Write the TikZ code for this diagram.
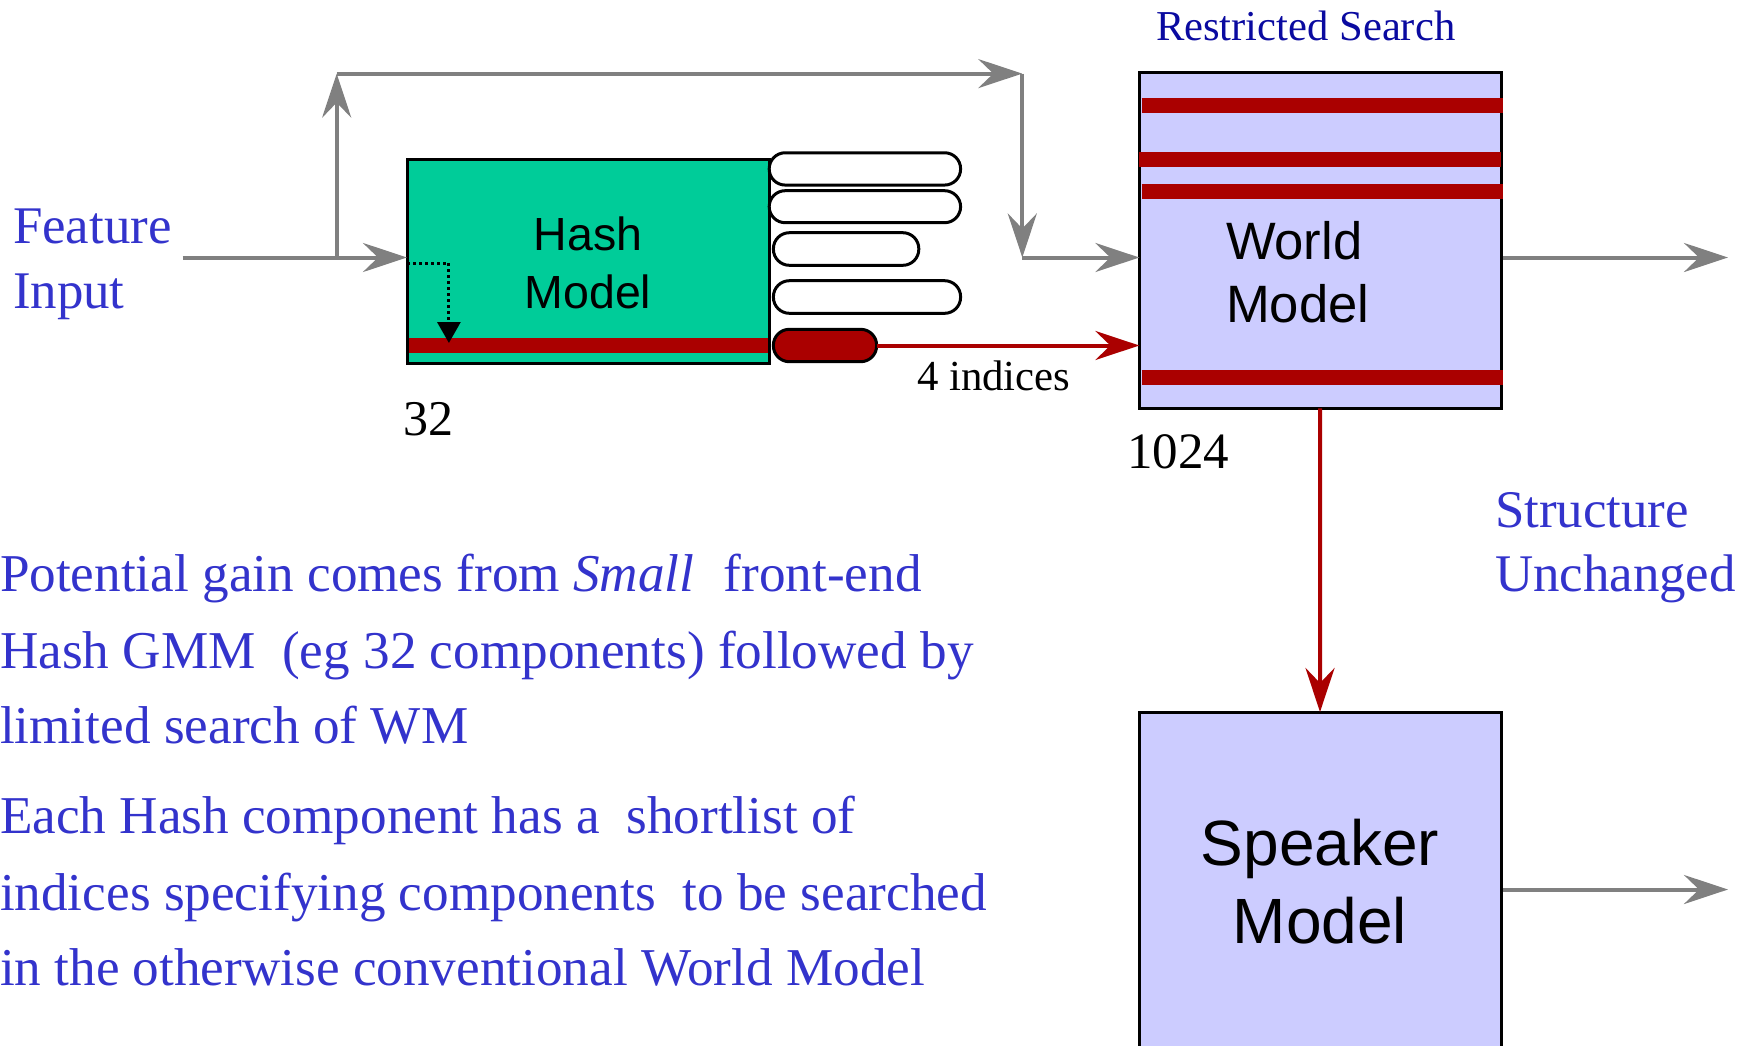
\documentclass[tikz,border=0pt]{standalone}
\usepackage{fontspec}
\setmainfont{Liberation Serif}
\newfontfamily\helv{Liberation Sans}
\usetikzlibrary{arrows.meta}
\definecolor{hgreen}{RGB}{0,204,153}
\definecolor{lav}{RGB}{204,204,255}
\definecolor{dred}{RGB}{170,0,0}
\definecolor{agray}{RGB}{128,128,128}
\definecolor{tblue}{RGB}{51,51,204}
\definecolor{dblue}{RGB}{10,10,160}
\begin{document}
\begin{tikzpicture}[x=1pt,y=-1pt,
  every node/.style={inner sep=0pt,outer sep=0pt},
  box/.style={draw=black,line width=3pt,inner sep=0pt},
  pill/.style={draw=black,line width=3pt,rounded corners=16pt,fill=white},
  rbar/.style={draw=dred,line width=15pt},
  garrow/.style={draw=agray,line width=4pt,-{Stealth[length=44pt,width=29pt,inset=15pt]}},
  rarrow/.style={draw=dred,line width=4pt,-{Stealth[length=44pt,width=29pt,inset=15pt]}},
  dotarrow/.style={draw=black,line width=3pt,dash pattern=on 3pt off 3pt,-{Triangle[length=21pt,width=23pt]}},
  lbl/.style={anchor=base west},
  bluetxt/.style={lbl,text=tblue,font=\fontsize{52.9}{60}\selectfont},
  para/.style={lbl,text=tblue,font=\fontsize{53.2}{60}\selectfont},
  numtxt/.style={lbl,text=black}
]
\useasboundingbox (0,0) rectangle (1748,1045);

% boxes
\node[box,fill=hgreen,minimum width=362pt,minimum height=204pt] (hash) at (588,261.4) {};
\draw[rbar] (408.5,345.5) -- (767.5,345.5);
\node[box,fill=lav,minimum width=361.7pt,minimum height=335.6pt] (world) at (1320.2,240.5) {};
\draw[rbar] (1141.7,105) -- (1503.3,105);
\draw[rbar] (1139,159.2) -- (1501,159.2);
\draw[rbar] (1141.7,191.2) -- (1503.3,191.2);
\draw[rbar] (1141.7,377.2) -- (1503.3,377.2);
\node[box,fill=lav,minimum width=362pt,minimum height=340pt] (speaker) at (1320,882) {};

% pills
\node[pill,minimum width=191.4pt,minimum height=32.3pt] (k1) at (864.9,168.9) {};
\node[pill,minimum width=191.4pt,minimum height=32pt] (k2) at (864.9,206.7) {};
\node[pill,minimum width=145.4pt,minimum height=32.6pt] (k3) at (846.1,249) {};
\node[pill,minimum width=187.2pt,minimum height=32.6pt] (k4) at (867,297) {};
\node[pill,fill=dred,minimum width=103.3pt,minimum height=32.4pt] (k5) at (825,345.5) {};

% connectors
\coordinate (fin) at (182.7,257.5);
\coordinate (split) at (336.7,257.5);
\coordinate (tl) at (336.7,73.6);
\coordinate (tr) at (1022.3,73.6);
\coordinate (mr) at (1022.3,257.5);
\coordinate (out1) at (1728,257.5);
\coordinate (out2) at (1728,889.5);
\draw[garrow] (fin) -- (fin -| hash.west);
\draw[garrow] (split) -- (tl);
\draw[garrow] (tl) -- (tr);
\draw[garrow] (tr) -- (mr);
\draw[garrow] (mr) -- (mr -| world.west);
\draw[garrow] (out1 -| world.east) ++(2,0) -- (out1);
\draw[garrow] (out2 -| speaker.east) ++(2,0) -- (out2);
\draw[rarrow] (k5.east) -- (k5.east -| world.west);
\draw[rarrow] (world.south) -- (speaker.north);

\coordinate (d0) at (407,263);
\coordinate (d1) at (448.9,263);
\coordinate (d2) at (448.9,343);
\draw[dotarrow] (d0) -- (d1) -- (d2);

% box texts
\node[anchor=base,font=\helv\fontsize{46.5}{56}\selectfont] (hashA) at (588,250) {Hash};
\node[anchor=base,font=\helv\fontsize{46.5}{56}\selectfont] (hashB) at (588,308.3) {Model};
\node[lbl,font=\helv\fontsize{52.6}{60}\selectfont] (worldA) at (1226,259) {World};
\node[lbl,font=\helv\fontsize{52.6}{60}\selectfont] (worldB) at (1226,322.7) {Model};
\node[anchor=base,font=\helv\fontsize{64}{72}\selectfont] (spkA) at (1320,865) {Speaker};
\node[anchor=base,font=\helv\fontsize{64}{72}\selectfont] (spkB) at (1320,943.3) {Model};

% labels
\node[bluetxt] (featA) at (13,243.3) {Feature};
\node[bluetxt] (featB) at (13,308.3) {Input};
\node[lbl,text=dblue,font=\fontsize{42.6}{50}\selectfont] (rs) at (1156,40) {Restricted Search};
\node[numtxt,font=\fontsize{42.8}{50}\selectfont] (idx) at (917,390) {4 indices};
\node[numtxt,font=\fontsize{50}{58}\selectfont] (n32) at (403,435) {32};
\node[numtxt,font=\fontsize{51}{58}\selectfont] (n1024) at (1127,468.3) {1024};
\node[bluetxt] (suA) at (1495,527.3) {Structure};
\node[bluetxt] (suB) at (1495,591.7) {Unchanged};

% paragraph
\node[para] (p1) at (0,591.7) {Potential gain comes from \textit{Small}\hspace{0.3em} front-end};
\node[para] (p2) at (0,668.3) {Hash GMM\hspace{0.25em} (eg 32 components) followed by};
\node[para] (p3) at (0,743.3) {limited search of WM};
\node[para] (p4) at (0,833.3) {Each Hash component has a\hspace{0.25em} shortlist of};
\node[para] (p5) at (0,910) {indices specifying components\hspace{0.25em} to be searched};
\node[para] (p6) at (0,985) {in the otherwise conventional World Model};
\end{tikzpicture}
\end{document}
